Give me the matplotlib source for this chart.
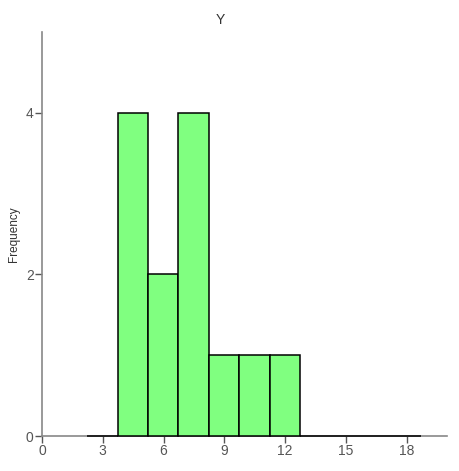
import numpy as np
import matplotlib
matplotlib.use("Agg")
import matplotlib.pyplot as plt

bin_edges = [2.24, 3.74, 5.24, 6.74, 8.24, 9.74, 11.24, 12.74, 14.24, 15.74, 17.24, 18.74]
counts = [0, 4, 2, 4, 1, 1, 1, 0, 0, 0, 0]
x_ticks = [0, 3, 6, 9, 12, 15, 18]
y_ticks = [0, 2, 4]

plt.rcParams['font.family'] = ['Liberation Sans', 'DejaVu Sans']

fig = plt.figure(figsize=(4.6, 4.71), dpi=100)
ax = fig.add_axes([42/460, 35/471, 405/460, 404/471])

widths = np.diff(bin_edges)
bars = ax.bar(bin_edges[:-1], counts, width=widths, align='edge',
              color='#80ff80', edgecolor='black', linewidth=1.1, zorder=3)
for b in bars:
    b.set_clip_on(False)

ax.set_xlim(0, 20)
ax.set_ylim(0, 5)
ax.set_xticks(x_ticks)
ax.set_yticks(y_ticks)

for s in ['top', 'right']:
    ax.spines[s].set_visible(False)
for s in ['left', 'bottom']:
    ax.spines[s].set_color('#888888')
    ax.spines[s].set_linewidth(1.2)
ax.tick_params(colors='#555555', labelsize=10, length=5, width=1, pad=1)

fig.text(220/460, 1 - 20/471, "Y", ha='center', va='center', fontsize=10, color='#333333')
ax.set_ylabel("Frequency", fontsize=8.5, color='#333333', labelpad=4)

fig.savefig("out.png", dpi=100)
